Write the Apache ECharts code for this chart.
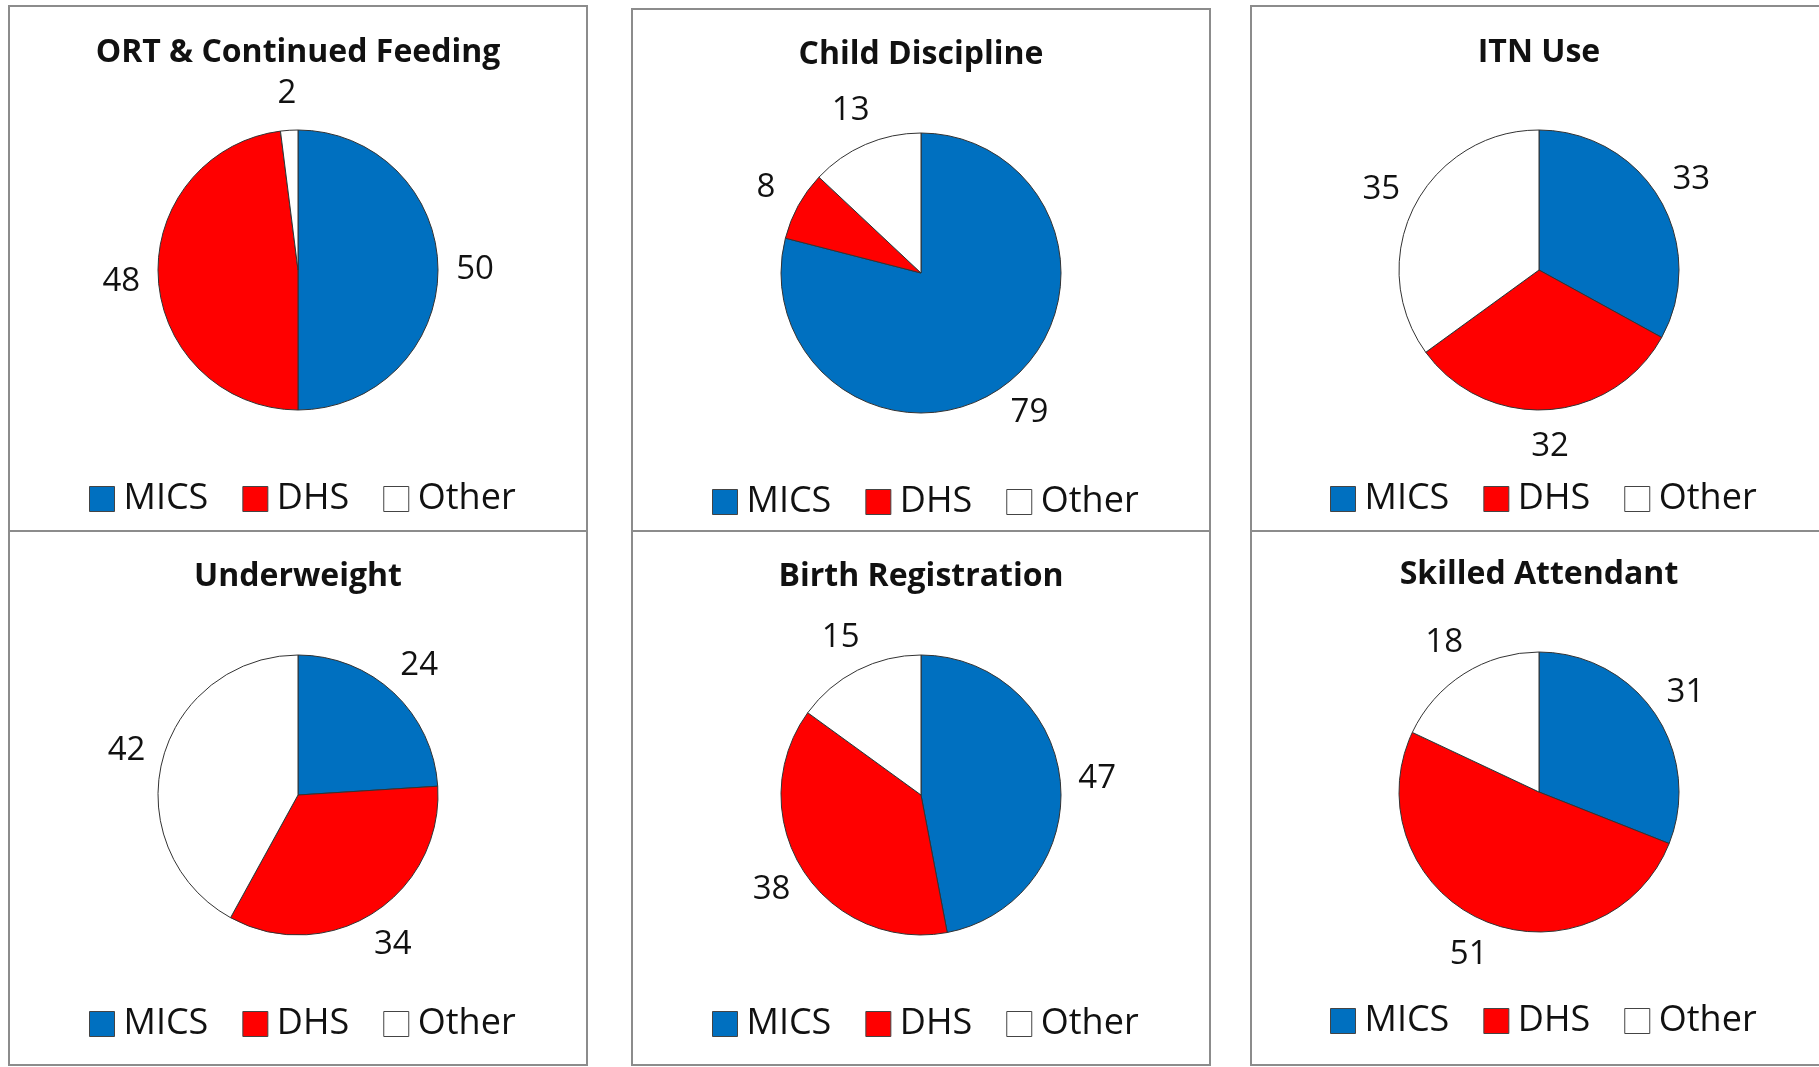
<!DOCTYPE html>
<html>
<head>
<meta charset="utf-8">
<script src="https://cdn.jsdelivr.net/npm/echarts@6/dist/echarts.min.js"></script>
<style>
html,body{margin:0;padding:0;background:#fff;}
#chart{width:1819px;height:1067px;}
</style>
</head>
<body>
<div id="chart"></div>
<script>
// ---- data ----
const categories = ['MICS', 'DHS', 'Other'];
const colors = ['#0070C0', '#FF0000', '#FFFFFF'];
const titles = ['ORT & Continued Feeding', 'Child Discipline', 'ITN Use',
                'Underweight', 'Birth Registration', 'Skilled Attendant'];
const ortFeeding = [50, 48, 2];
const childDiscipline = [79, 8, 13];
const itnUse = [33, 32, 35];
const underweight = [24, 34, 42];
const birthRegistration = [47, 38, 15];
const skilledAttendant = [31, 51, 18];
const panelValues = [ortFeeding, childDiscipline, itnUse, underweight, birthRegistration, skilledAttendant];

// ---- layout ----
const colX = [298, 921, 1539];
const rowPieY = [[270, 273, 270], [795, 795, 792]];
const rowTitleY = [[37, 39, 37], [561, 561, 559]];
const rowLegendY = [[481, 484, 481], [1006, 1006, 1003]];
const pieR = 140;
const boxes = [
  [9, 6, 578, 525], [632, 9, 578, 522], [1251, 6, 580, 525],
  [9, 531, 578, 534], [632, 531, 578, 534], [1251, 531, 580, 534]
];

const chart = echarts.init(document.getElementById('chart'), null, {renderer: 'canvas'});
const font = '"Open Sans", "Liberation Sans", sans-serif';

const titleArr = [], legendArr = [], seriesArr = [];
panelValues.forEach((vals, i) => {
  const row = Math.floor(i / 3), col = i % 3;
  const cx = colX[col], cy = rowPieY[row][col];
  titleArr.push({
    text: titles[i], left: cx, top: rowTitleY[row][col], textAlign: 'center', padding: 0,
    textStyle: {fontFamily: font, fontWeight: 'bold', fontSize: 32, color: '#111'}
  });
  legendArr.push({
    data: categories, left: cx - 209, top: rowLegendY[row][col], padding: 0,
    orient: 'horizontal', icon: 'rect', itemWidth: 25, itemHeight: 25, itemGap: 34,
    selectedMode: false,
    itemStyle: {borderColor: '#444', borderWidth: 1},
    textStyle: {fontFamily: font, fontSize: 36, color: '#111', padding: [0, 0, 0, 4]}
  });
  const data = vals.map((v, k) => ({name: categories[k], value: v, itemStyle: {color: colors[k]}}));
  seriesArr.push({
    type: 'pie', center: [cx, cy], radius: [0, pieR], startAngle: 90, clockwise: true,
    silent: true, animation: false, label: {show: false}, labelLine: {show: false},
    itemStyle: {borderColor: '#333', borderWidth: 1},
    emphasis: {disabled: true},
    data: data
  });
  // transparent ring used only to place value labels at a fixed distance outside the pie
  seriesArr.push({
    type: 'pie', center: [cx, cy], radius: [pieR + 24, pieR + 44], startAngle: 90, clockwise: true,
    silent: true, animation: false, labelLine: {show: false},
    itemStyle: {color: 'rgba(0,0,0,0)', borderWidth: 0},
    emphasis: {disabled: true},
    label: {show: true, position: 'inside', formatter: '{c}', fontFamily: font, fontSize: 33, color: '#111'},
    data: vals.map((v, k) => ({name: categories[k], value: v}))
  });
});

chart.setOption({
  backgroundColor: '#fff',
  animation: false,
  title: titleArr,
  legend: legendArr,
  graphic: boxes.map(b => ({
    type: 'rect', shape: {x: b[0], y: b[1], width: b[2], height: b[3]},
    style: {fill: 'none', stroke: '#8c8c8c', lineWidth: 2}, silent: true, z: -1
  })),
  series: seriesArr
});
</script>
</body>
</html>
